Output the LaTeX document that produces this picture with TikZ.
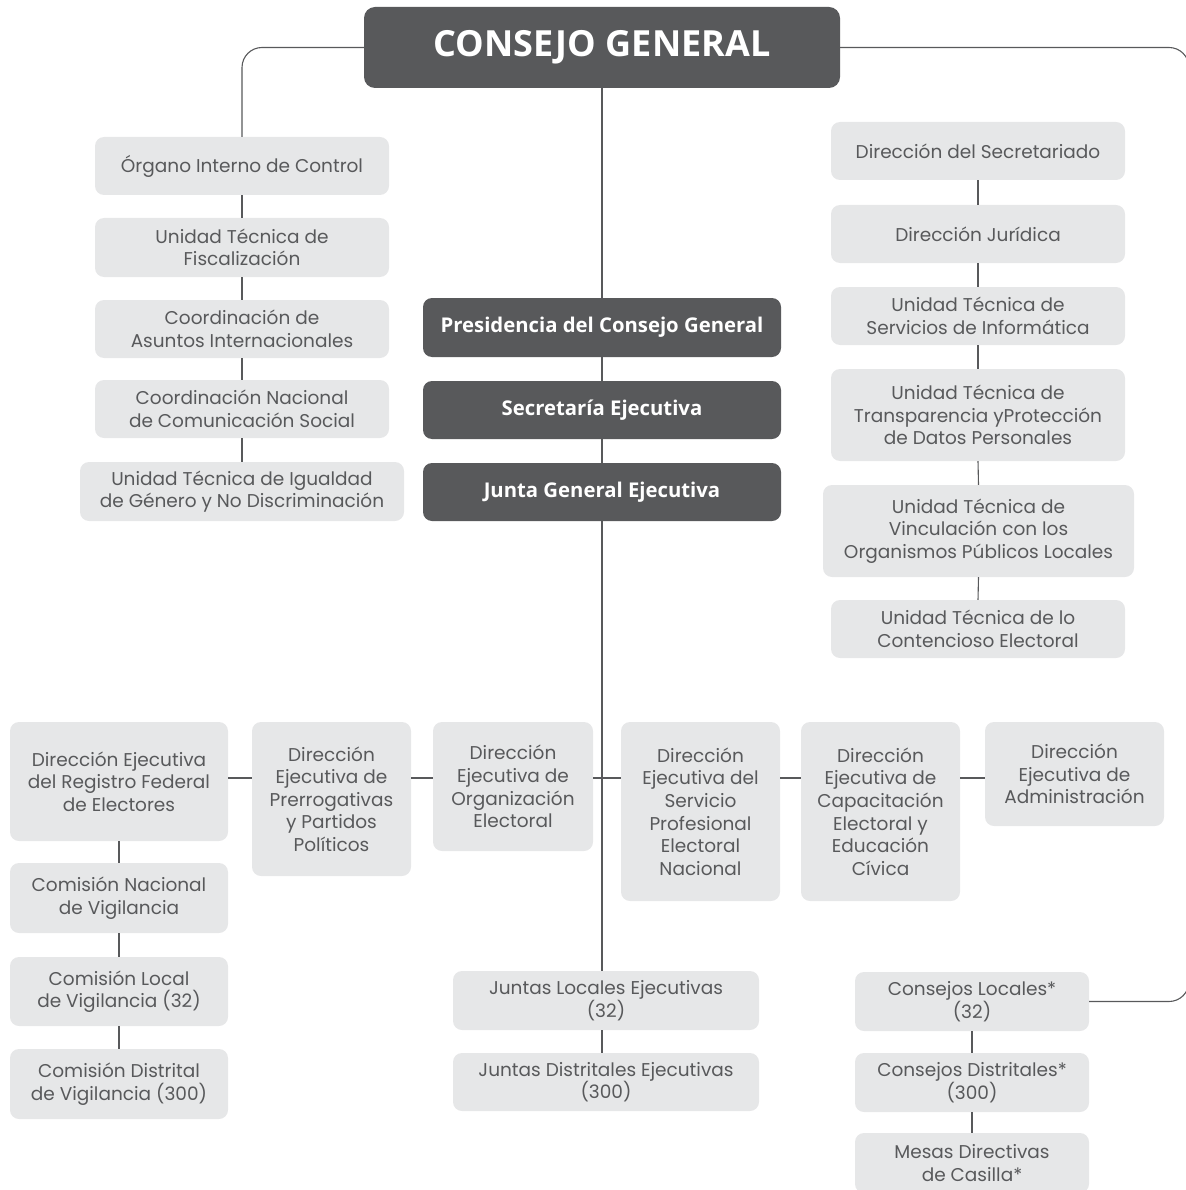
\documentclass[tikz,border=0pt]{standalone}
\usepackage{fontspec}
\setmainfont{Poppins}
\newfontfamily\titlefont{Open Sans}
\definecolor{dk}{HTML}{58595B}
\definecolor{lt}{HTML}{E6E7E8}
\tikzset{
  lbox/.style={fill=lt, rounded corners=9pt, text=dk, align=center, inner sep=0pt,
    font=\fontsize{18.5}{22.6}\selectfont},
  dbox/.style={fill=dk, rounded corners=9pt, text=white, align=center, inner sep=0pt,
    font=\titlefont\bfseries\fontsize{20.3}{22}\selectfont},
  topbox/.style={dbox, rounded corners=11pt, font=\titlefont\bfseries\fontsize{36}{40}\selectfont},
  conn/.style={draw=dk, line width=1.1pt},
}
\newcommand\bx[7][lbox]{\node[#1, minimum width={#5-#3}, minimum height={#6-#4}] (#2) at ({(#3+#5)/2},{(#4+#6)/2}) {#7};}
\begin{document}
\begin{tikzpicture}[x=1pt,y=-1pt]
\useasboundingbox (0,0) rectangle (1185,1190);
% top
\bx[topbox]{cg}{364}{7}{840}{88}{CONSEJO GENERAL}
% left column
\bx{oic}{95}{137}{389}{195}{Órgano Interno de Control}
\bx{utf}{95}{218}{389}{277}{Unidad Técnica de\\Fiscalización}
\bx{cai}{95}{300}{389}{358}{Coordinación de\\Asuntos Internacionales}
\bx{cncs}{95}{380}{389}{438}{Coordinación Nacional\\de Comunicación Social}
\bx{utig}{80}{462}{404}{521}{Unidad Técnica de Igualdad\\de Género y No Discriminación}
% middle
\bx[dbox]{pres}{423}{298}{781}{357}{Presidencia del Consejo General}
\bx[dbox]{sec}{423}{381}{781}{439}{Secretaría Ejecutiva}
\bx[dbox]{jge}{423}{463}{781}{521}{Junta General Ejecutiva}
% right column
\bx{ds}{831}{122}{1125}{180}{Dirección del Secretariado}
\bx{dj}{831}{205}{1125}{263}{Dirección Jurídica}
\bx{utsi}{831}{287}{1125}{345}{Unidad Técnica de\\Servicios de Informática}
\bx{uttp}{831}{369}{1125}{461}{Unidad Técnica de\\Transparencia yProtección\\de Datos Personales}
\bx{utv}{823}{485}{1134}{577}{Unidad Técnica de\\Vinculación con los\\Organismos Públicos Locales}
\bx{utce}{831}{600}{1125}{658}{Unidad Técnica de lo\\Contencioso Electoral}
% row of direcciones ejecutivas
\bx{derfe}{10}{722}{228}{841}{Dirección Ejecutiva\\del Registro Federal\\de Electores}
\bx{deppp}{252}{722}{411}{876}{Dirección\\Ejecutiva de\\Prerrogativas\\y Partidos\\Políticos}
\bx{deoe}{433}{722}{593}{851}{Dirección\\Ejecutiva de\\Organización\\Electoral}
\bx{despen}{621}{722}{780}{901}{Dirección\\Ejecutiva del\\Servicio\\Profesional\\Electoral\\Nacional}
\bx{dece}{801}{722}{960}{901}{Dirección\\Ejecutiva de\\Capacitación\\Electoral y\\Educación\\Cívica}
\bx{dea}{985}{722}{1164}{826}{Dirección\\Ejecutiva de\\Administración}
% left bottom
\bx{cnv}{10}{863}{228}{933}{Comisión Nacional\\de Vigilancia}
\bx{clv}{10}{957}{228}{1026}{Comisión Local\\de Vigilancia (32)}
\bx{cdv}{10}{1049}{228}{1119}{Comisión Distrital\\de Vigilancia (300)}
% middle bottom
\bx{jle}{453}{971}{759}{1030}{Juntas Locales Ejecutivas\\(32)}
\bx{jde}{453}{1053}{759}{1111}{Juntas Distritales Ejecutivas\\(300)}
% right bottom
\bx{cl}{855}{972}{1089}{1031}{Consejos Locales*\\(32)}
\bx{cd}{855}{1053}{1089}{1112}{Consejos Distritales*\\(300)}
\bx{mdc}{855}{1133}{1089}{1193}{Mesas Directivas\\de Casilla*}
% connectors
\coordinate (rc) at (1189,600);
\coordinate (hrow) at (602,778);
\draw[conn, rounded corners=20pt] (cg.west) -| (oic.north);
\draw[conn, rounded corners=20pt] (cg.east) -| (rc) |- (cl.east);
\draw[conn] (oic.south) -- (utf.north);
\draw[conn] (utf.south) -- (cai.north);
\draw[conn] (cai.south) -- (cncs.north);
\draw[conn] (cncs.south) -- (utig.north);
\draw[conn] (cg.south) -- (pres.north);
\draw[conn] (pres.south) -- (sec.north);
\draw[conn] (sec.south) -- (jge.north);
\draw[conn] (jge.south) -- (jge.south |- jle.north);
\draw[conn] (jge.south |- jle.south) -- (jge.south |- jde.north);
\draw[conn] (ds.south) -- (dj.north);
\draw[conn] (dj.south) -- (utsi.north);
\draw[conn] (utsi.south) -- (uttp.north);
\draw[conn] (uttp.south) -- (utv.north);
\draw[conn] (utv.south) -- (utce.north);
\draw[conn] (derfe.east |- hrow) -- (deppp.west |- hrow);
\draw[conn] (deppp.east |- hrow) -- (deoe.west |- hrow);
\draw[conn] (deoe.east |- hrow) -- (despen.west |- hrow);
\draw[conn] (despen.east |- hrow) -- (dece.west |- hrow);
\draw[conn] (dece.east |- hrow) -- (dea.west |- hrow);
\draw[conn] (derfe.south) -- (cnv.north);
\draw[conn] (cnv.south) -- (clv.north);
\draw[conn] (clv.south) -- (cdv.north);
\draw[conn] (cl.south) -- (cd.north);
\draw[conn] (cd.south) -- (mdc.north);
\end{tikzpicture}
\end{document}
